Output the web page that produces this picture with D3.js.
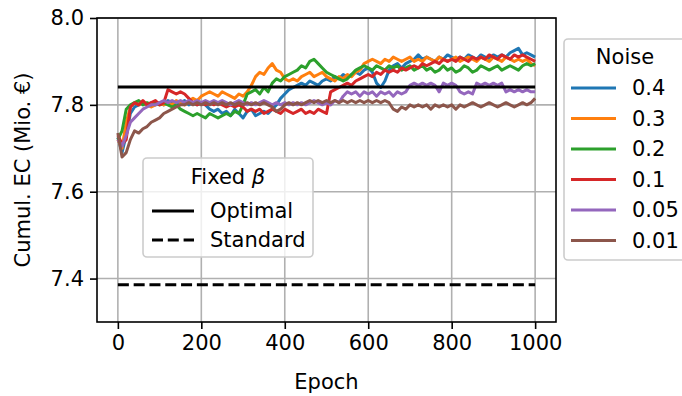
<!DOCTYPE html>
<html><head><meta charset="utf-8">
<script src="https://cdn.jsdelivr.net/npm/d3@7"></script>
<style>body{margin:0;background:#fff}svg{display:block;font-family:"DejaVu Sans",sans-serif}</style>
</head><body><svg id="c" width="682" height="396"></svg>
<script>
const epochs = d3.range(0, 1001, 10);
const noiseLabels = ["0.4","0.3","0.2","0.1","0.05","0.01"];
const colors = ["#1f77b4","#ff7f0e","#2ca02c","#d62728","#9467bd","#8c564b"];
const s04 = [7.725,7.69,7.73,7.78,7.795,7.80,7.805,7.80,7.805,7.80,
7.805,7.80,7.81,7.805,7.80,7.805,7.81,7.80,7.805,7.80,
7.805,7.80,7.79,7.785,7.79,7.78,7.785,7.775,7.79,7.78,
7.77,7.785,7.79,7.775,7.78,7.785,7.78,7.79,7.80,7.815,
7.825,7.835,7.84,7.845,7.85,7.845,7.855,7.85,7.845,7.855,
7.86,7.855,7.865,7.86,7.87,7.865,7.87,7.875,7.87,7.88,
7.885,7.875,7.85,7.84,7.855,7.88,7.89,7.895,7.885,7.895,
7.90,7.905,7.915,7.905,7.91,7.905,7.90,7.91,7.905,7.915,
7.91,7.905,7.91,7.905,7.915,7.91,7.905,7.915,7.91,7.905,
7.915,7.91,7.915,7.91,7.92,7.925,7.93,7.915,7.92,7.915,7.91];
const s03 = [7.72,7.70,7.76,7.795,7.805,7.80,7.805,7.80,7.795,7.80,
7.805,7.80,7.805,7.80,7.81,7.805,7.80,7.81,7.815,7.81,
7.82,7.825,7.83,7.825,7.82,7.83,7.825,7.82,7.815,7.825,
7.82,7.83,7.845,7.865,7.875,7.87,7.885,7.895,7.88,7.875,
7.86,7.855,7.86,7.855,7.865,7.87,7.875,7.865,7.87,7.875,
7.865,7.86,7.855,7.865,7.86,7.87,7.865,7.875,7.88,7.895,
7.90,7.905,7.90,7.895,7.905,7.90,7.91,7.905,7.90,7.905,
7.91,7.90,7.905,7.90,7.91,7.905,7.90,7.91,7.905,7.90,
7.905,7.91,7.90,7.905,7.91,7.905,7.90,7.91,7.905,7.90,
7.91,7.905,7.90,7.91,7.905,7.90,7.905,7.90,7.905,7.895,7.89];
const s02 = [7.72,7.74,7.79,7.80,7.805,7.81,7.80,7.805,7.80,7.805,
7.80,7.805,7.80,7.795,7.80,7.79,7.785,7.78,7.775,7.78,
7.775,7.77,7.78,7.775,7.77,7.775,7.78,7.775,7.785,7.78,
7.80,7.825,7.83,7.835,7.825,7.84,7.83,7.85,7.86,7.855,
7.865,7.87,7.875,7.88,7.89,7.885,7.90,7.905,7.895,7.885,
7.875,7.87,7.865,7.86,7.855,7.86,7.87,7.88,7.885,7.89,
7.885,7.88,7.89,7.885,7.88,7.89,7.885,7.89,7.88,7.885,
7.89,7.88,7.885,7.89,7.88,7.885,7.875,7.88,7.89,7.88,
7.885,7.875,7.88,7.89,7.885,7.875,7.88,7.89,7.885,7.88,
7.885,7.89,7.88,7.885,7.89,7.885,7.88,7.89,7.895,7.89,7.895];
const s01 = [7.73,7.71,7.72,7.795,7.805,7.80,7.81,7.80,7.805,7.81,
7.80,7.805,7.835,7.83,7.825,7.83,7.825,7.815,7.805,7.80,
7.805,7.80,7.805,7.80,7.805,7.80,7.795,7.80,7.795,7.80,
7.795,7.785,7.79,7.785,7.79,7.78,7.785,7.79,7.785,7.78,
7.79,7.785,7.78,7.785,7.79,7.78,7.785,7.78,7.79,7.785,
7.78,7.83,7.835,7.84,7.845,7.85,7.845,7.855,7.86,7.865,
7.87,7.865,7.875,7.87,7.88,7.875,7.88,7.875,7.885,7.88,
7.885,7.89,7.885,7.895,7.89,7.895,7.90,7.895,7.905,7.90,
7.905,7.90,7.91,7.905,7.90,7.91,7.905,7.91,7.905,7.915,
7.91,7.905,7.915,7.91,7.905,7.915,7.91,7.915,7.91,7.905,7.90];
const s005 = [7.72,7.705,7.73,7.76,7.77,7.78,7.79,7.795,7.80,7.80,
7.805,7.81,7.805,7.81,7.805,7.81,7.805,7.81,7.805,7.81,
7.805,7.81,7.805,7.81,7.805,7.81,7.805,7.80,7.805,7.81,
7.805,7.80,7.805,7.80,7.805,7.81,7.805,7.80,7.805,7.80,
7.805,7.80,7.805,7.80,7.805,7.80,7.805,7.81,7.805,7.80,
7.805,7.80,7.81,7.805,7.82,7.83,7.825,7.83,7.82,7.83,
7.825,7.83,7.82,7.83,7.825,7.83,7.82,7.83,7.825,7.83,
7.845,7.85,7.845,7.85,7.845,7.85,7.845,7.83,7.85,7.845,
7.85,7.845,7.83,7.825,7.83,7.825,7.85,7.845,7.85,7.845,
7.85,7.845,7.85,7.83,7.835,7.83,7.835,7.83,7.835,7.83,7.83];
const s001 = [7.735,7.68,7.69,7.72,7.74,7.735,7.745,7.75,7.76,7.765,
7.77,7.78,7.785,7.79,7.795,7.80,7.80,7.805,7.80,7.805,
7.80,7.805,7.80,7.805,7.80,7.805,7.80,7.805,7.80,7.805,
7.80,7.805,7.80,7.805,7.80,7.805,7.80,7.795,7.785,7.79,
7.80,7.805,7.80,7.805,7.80,7.805,7.81,7.805,7.81,7.805,
7.81,7.805,7.81,7.805,7.81,7.805,7.81,7.805,7.81,7.805,
7.81,7.805,7.81,7.805,7.81,7.805,7.79,7.785,7.795,7.79,
7.80,7.795,7.80,7.795,7.80,7.79,7.80,7.795,7.80,7.795,
7.80,7.79,7.80,7.795,7.80,7.805,7.80,7.795,7.80,7.805,
7.80,7.795,7.80,7.805,7.80,7.795,7.80,7.805,7.80,7.805,7.815];
const seriesValues = [s04, s03, s02, s01, s005, s001];
const fixedLabels = ["Optimal","Standard"];
const fixedValues = [7.841, 7.386];
const fixedEpochs = [0, 1000];
const xTicks = [0,200,400,600,800,1000];
const yTicks = [7.4,7.6,7.8,8.0];

const svg = d3.select("#c");
const L=97, R=556, T=18, B=322;
const x = d3.scaleLinear().domain([-50,1050]).range([L,R]);
const y = d3.scaleLinear().domain([7.3,8.0]).range([B,T]);
const FS = 21;

// grid
svg.append("g").selectAll("line").data(xTicks).join("line")
  .attr("x1",d=>x(d)).attr("x2",d=>x(d)).attr("y1",T).attr("y2",B)
  .attr("stroke","#b0b0b0").attr("stroke-width",1.6);
svg.append("g").selectAll("line").data(yTicks).join("line")
  .attr("x1",L).attr("x2",R).attr("y1",d=>y(d)).attr("y2",d=>y(d))
  .attr("stroke","#b0b0b0").attr("stroke-width",1.6);

// series
const line = d3.line().x((d,i)=>x(epochs[i])).y(d=>y(d));
seriesValues.forEach((vals,k)=>{
  svg.append("path").datum(vals).attr("d",line).attr("fill","none")
    .attr("stroke",colors[k]).attr("stroke-width",3).attr("stroke-linejoin","round");
});
// fixed lines
fixedValues.forEach((v,k)=>{
  svg.append("path").datum(fixedEpochs).attr("d",d3.line().x(d=>x(d)).y(()=>y(v)))
    .attr("stroke","#000").attr("stroke-width",3).attr("fill","none")
    .attr("stroke-dasharray",k===1?"11,4.8":null);
});

// axes
const xa = svg.append("g").attr("transform",`translate(0,${B})`)
  .call(d3.axisBottom(x).tickValues(xTicks).tickSize(7).tickPadding(6).tickFormat(d3.format("d")));
const ya = svg.append("g").attr("transform",`translate(${L},0)`)
  .call(d3.axisLeft(y).tickValues(yTicks).tickSize(7).tickPadding(6).tickFormat(d3.format(".1f")));
[xa,ya].forEach(a=>{a.select(".domain").remove();a.selectAll("line").attr("stroke-width",1.6);
  a.selectAll("text").attr("font-size",FS).attr("font-family","DejaVu Sans").attr("fill","#000");});
svg.append("rect").attr("x",L).attr("y",T).attr("width",R-L).attr("height",B-T)
  .attr("fill","none").attr("stroke","#000").attr("stroke-width",1.6);

svg.append("text").attr("x",(L+R)/2).attr("y",389).attr("text-anchor","middle")
  .attr("font-size",FS).text("Epoch");
svg.append("text").attr("transform","translate(30,170) rotate(-90)").attr("text-anchor","middle")
  .attr("font-size",FS).text("Cumul. EC (Mio. €)");

// Fixed beta legend
const lg1 = svg.append("g");
lg1.append("rect").attr("x",143).attr("y",158).attr("width",170).attr("height",99).attr("rx",4)
  .attr("fill","#fff").attr("fill-opacity",0.8).attr("stroke","#cccccc").attr("stroke-width",1.6);
const t1 = lg1.append("text").attr("x",228).attr("y",184).attr("text-anchor","middle").attr("font-size",FS);
t1.append("tspan").text("Fixed ");
t1.append("tspan").attr("font-style","italic").text("β");
fixedLabels.forEach((lab,k)=>{
  const yy = [211,240][k];
  lg1.append("line").attr("x1",152).attr("x2",194).attr("y1",yy).attr("y2",yy)
    .attr("stroke","#000").attr("stroke-width",3).attr("stroke-dasharray",k===1?"11,4.8":null);
  lg1.append("text").attr("x",210).attr("y",yy+7).attr("font-size",FS).text(lab);
});

// Noise legend
const lg2 = svg.append("g");
lg2.append("rect").attr("x",564).attr("y",39).attr("width",130).attr("height",221).attr("rx",4)
  .attr("fill","#fff").attr("fill-opacity",0.8).attr("stroke","#cccccc").attr("stroke-width",1.6);
lg2.append("text").attr("x",625).attr("y",64).attr("text-anchor","middle").attr("font-size",FS).text("Noise");
noiseLabels.forEach((lab,k)=>{
  const yy = 88 + k*30.5;
  lg2.append("line").attr("x1",571).attr("x2",616).attr("y1",yy).attr("y2",yy)
    .attr("stroke",colors[k]).attr("stroke-width",3);
  lg2.append("text").attr("x",632).attr("y",yy+7).attr("font-size",FS).text(lab);
});
</script></body></html>
